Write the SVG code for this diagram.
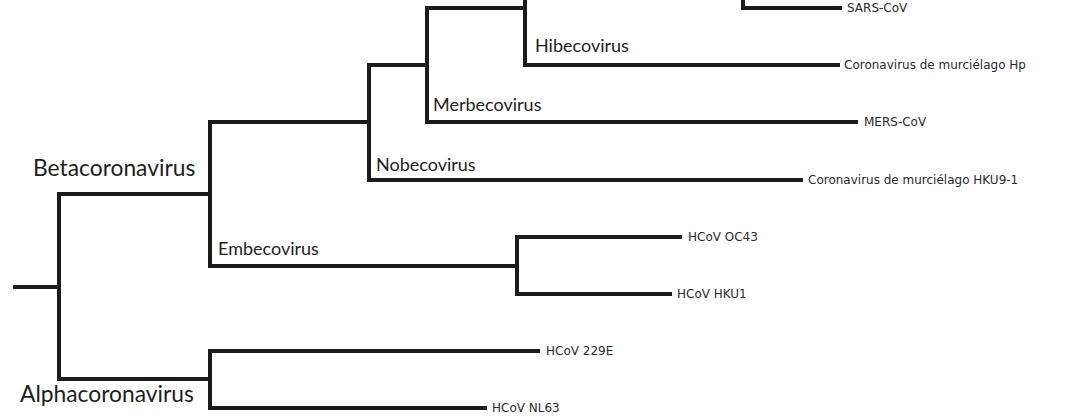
<svg xmlns="http://www.w3.org/2000/svg" width="1076" height="418" viewBox="0 0 1076 418">
<style>
.br{fill:none;stroke:#1b1b1b;stroke-width:4;stroke-linejoin:miter;stroke-linecap:square}
.big{font-family:Lato,"Liberation Sans",sans-serif;font-size:22.8px;fill:#1e1e1e}
.clade{font-family:Lato,"Liberation Sans",sans-serif;font-size:18px;fill:#1e1e1e}
.leaf{font-family:"DejaVu Sans","Liberation Sans",sans-serif;font-size:12px;fill:#2a2a2a}
</style>
<rect width="1076" height="418" fill="#ffffff"/>
<g id="connectors">
<path class="br" d="M15 287 H59"/>
<path class="br" d="M210 194 H59 V379 H210"/>
<path class="br" d="M369 122 H210 V266 H517"/>
<path class="br" d="M427 65 H369 V180 H801"/>
<path class="br" d="M525 8 H427 V122 H856"/>
<path class="br" d="M525 -60 V65 H838"/>
<path class="br" d="M743 -20 V8 H840"/>
<path class="br" d="M680 237 H517 V294 H670"/>
<path class="br" d="M538 351 H210 V408 H485"/>
</g>
<g id="betacoronavirus"><text class="big" x="33" y="176">Betacoronavirus</text></g>
<g id="alphacoronavirus"><text class="big" x="20" y="402">Alphacoronavirus</text></g>
<g id="embecovirus"><text class="clade" x="218" y="255">Embecovirus</text></g>
<g id="nobecovirus"><text class="clade" x="376" y="171">Nobecovirus</text></g>
<g id="merbecovirus"><text class="clade" x="433" y="111">Merbecovirus</text></g>
<g id="hibecovirus"><text class="clade" x="535" y="52">Hibecovirus</text></g>
<g id="sars-cov"><text class="leaf" x="847" y="12">SARS-CoV</text></g>
<g id="bat-cov-hp"><text class="leaf" x="844" y="69">Coronavirus de murciélago Hp</text></g>
<g id="mers-cov"><text class="leaf" x="864" y="126">MERS-CoV</text></g>
<g id="bat-cov-hku9"><text class="leaf" x="808" y="184">Coronavirus de murciélago HKU9-1</text></g>
<g id="hcov-oc43"><text class="leaf" x="688" y="241">HCoV OC43</text></g>
<g id="hcov-hku1"><text class="leaf" x="677" y="298">HCoV HKU1</text></g>
<g id="hcov-229e"><text class="leaf" x="546" y="355">HCoV 229E</text></g>
<g id="hcov-nl63"><text class="leaf" x="492" y="412">HCoV NL63</text></g>
</svg>
